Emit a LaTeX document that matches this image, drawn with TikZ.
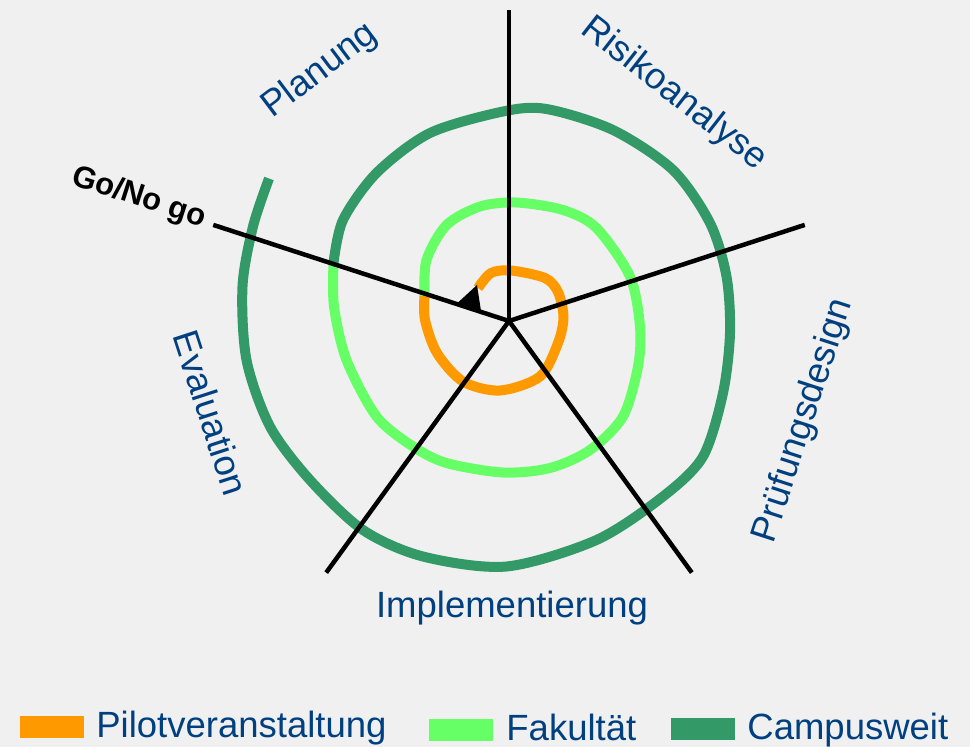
\documentclass[tikz,border=0pt]{standalone}
\usepackage{fontspec}
\setmainfont{Liberation Sans}
\definecolor{hintergrund}{RGB}{240,240,240}
\definecolor{pilot}{RGB}{255,153,0}
\definecolor{fakultaet}{RGB}{102,255,102}
\definecolor{campus}{RGB}{51,153,102}
\definecolor{schrift}{RGB}{0,64,128}

\def\r{311pt}
\def\spur#1#2{
	\draw[spirale,#1] plot[smooth] coordinates {#2};
}

\tikzset{
	spirale/.style={line width=10pt},
	speiche/.style={line width=4.5pt},
	phase/.style={text=schrift,inner sep=0pt,font=\fontsize{36.5}{43}\selectfont},
	legende/.style={phase,anchor=base west},
	kasten/.style={minimum width=64pt,minimum height=22pt,inner sep=0pt}
}

\begin{document}
\begin{tikzpicture}[x=1pt,y=-1pt,>=latex,thick]
\fill[hintergrund] (0,0) rectangle (970,747);
\useasboundingbox (0,0) rectangle (970,747);
\coordinate (m) at (509,321);
\foreach \w [count=\i] in {90,18,-54,-126,162}
	\path (m) ++(\w:\r) coordinate (s\i);
\coordinate (p1) at (458,302.5);
\coordinate (p2) at (477,285);
\coordinate (p3) at (481,311);
\spur{pilot}{(478,288) (491,273) (511,270.5) (545,278) (558,292) (563.5,317) (558,343) (540,376.5) (500,390.5) (463,381.5) (437,353) (425,320) (424.5,296)}
\spur{fakultaet}{(424.5,296) (426.5,260) (446.5,225) (480,206.5) (516.5,202.5) (563,210) (596.5,228) (630,276.5) (640,326.5) (638,366.5) (623,416.5) (590,450) (550,468) (503,472.5) (446.5,463) (413,446.5) (376.5,416.5) (346.5,360) (334,306.5) (333.5,263)}
\spur{campus}{(333.5,263) (343,220) (376.5,173) (430,133) (503,111.5) (546.5,109) (613,130) (673,170) (710,223) (726.5,276.5) (730,333) (723,393) (703,456.5) (663,496.5) (596.5,540) (506.5,566.5) (423,556.5) (363,530) (310,480) (270,426.5) (246.5,360) (242.5,286.5) (253,226.5) (269,178.5)}
\foreach \i in {1,...,5}
	\draw[speiche] (m) -- (s\i);
\fill (p1) -- (p2) -- (p3) -- cycle;
\node[phase,rotate=37] (planung) at (320,71) {Planung};
\node[phase,rotate=-38] (risiko) at (674,94) {Risikoanalyse};
\node[phase,rotate=72] (pruefung) at (804,421) {Prüfungsdesign};
\node[phase,anchor=base] (impl) at (512,617) {Implementierung};
\node[phase,rotate=-72] (eval) at (211,413) {Evaluation};
\node[inner sep=0pt,rotate=-18,font=\bfseries\fontsize{31}{37}\selectfont] (go) at (139,198) {Go/No go};
\node[kasten,fill=pilot] (kp) at (51.5,726.5) {};
\node[kasten,fill=fakultaet] (kf) at (461,729.5) {};
\node[kasten,fill=campus] (kc) at (703,728.5) {};
\node[legende] (tp) at (96,737) {Pilotveranstaltung};
\node[legende] (tf) at (506,740) {Fakultät};
\node[legende] (tc) at (747,739) {Campusweit};
\end{tikzpicture}
\end{document}
